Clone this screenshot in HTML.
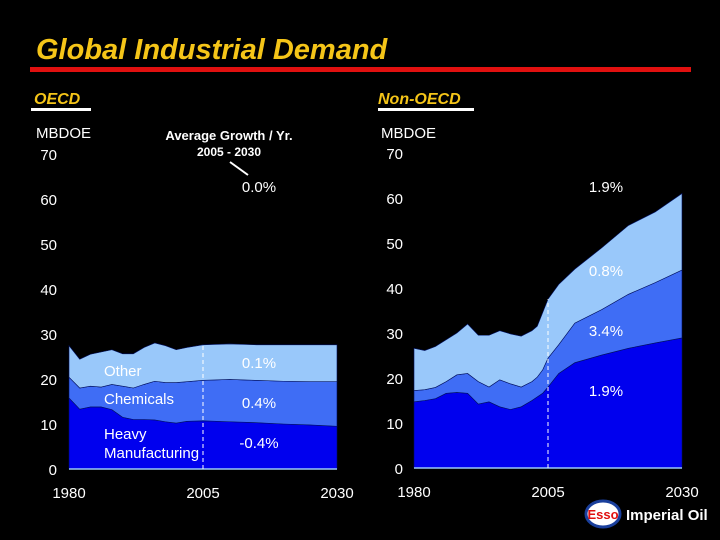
<!DOCTYPE html>
<html><head><meta charset="utf-8"><style>
html,body{margin:0;padding:0;background:#000;}
svg{display:block;font-family:"Liberation Sans",sans-serif;}
</style></head><body>
<svg id="c" width="720" height="540" viewBox="0 0 720 540">
<text x="36" y="59" font-size="29" font-weight="bold" font-style="italic" fill="#f5c518">Global Industrial Demand</text>
<rect x="30" y="67" width="661" height="5" fill="#e0100f"/>
<text x="34" y="104" font-size="16" font-weight="bold" font-style="italic" fill="#f5c518">OECD</text>
<rect x="31" y="108" width="60" height="3" fill="#fff"/>
<text x="378" y="104" font-size="16" font-weight="bold" font-style="italic" fill="#f5c518">Non-OECD</text>
<rect x="378" y="108" width="96" height="3" fill="#fff"/>
<text x="36" y="138" font-size="15" fill="#fff">MBDOE</text>
<text x="381" y="138" font-size="15" fill="#fff">MBDOE</text>
<text x="229" y="140" font-size="13" font-weight="bold" fill="#fff" text-anchor="middle">Average Growth / Yr.</text>
<text x="229" y="156" font-size="12" font-weight="bold" fill="#fff" text-anchor="middle">2005 - 2030</text>
<line x1="230" y1="162" x2="248" y2="175" stroke="#fff" stroke-width="2"/>
<g id="left"></g>
<g id="right"></g>
<text x="259" y="192" font-size="15" fill="#fff" text-anchor="middle">0.0%</text>
<text x="104" y="376" font-size="15" fill="#fff">Other</text>
<text x="104" y="404" font-size="15" fill="#fff">Chemicals</text>
<text x="104" y="439" font-size="15" fill="#fff">Heavy</text>
<text x="104" y="458" font-size="15" fill="#fff">Manufacturing</text>
<text x="259" y="368" font-size="15" fill="#fff" text-anchor="middle">0.1%</text>
<text x="259" y="408" font-size="15" fill="#fff" text-anchor="middle">0.4%</text>
<text x="259" y="448" font-size="15" fill="#fff" text-anchor="middle">-0.4%</text>
<text x="606" y="192" font-size="15" fill="#fff" text-anchor="middle">1.9%</text>
<text x="606" y="276" font-size="15" fill="#fff" text-anchor="middle">0.8%</text>
<text x="606" y="336" font-size="15" fill="#fff" text-anchor="middle">3.4%</text>
<text x="606" y="396" font-size="15" fill="#fff" text-anchor="middle">1.9%</text>
<g>
<ellipse cx="603" cy="514" rx="17" ry="13" fill="#fff" stroke="#1a3f9c" stroke-width="3"/>
<text x="603" y="519" font-size="13" font-weight="bold" fill="#e0100f" text-anchor="middle">Esso</text>
<text x="626" y="520" font-size="15" font-weight="bold" fill="#fff">Imperial Oil</text>
</g>
</svg>
<script>
const yTicks=[0,10,20,30,40,50,60,70];
const xTicks=[1980,2005,2030];
const oecdYears=[1980,1982,1984,1986,1988,1990,1992,1994,1996,1998,2000,2002,2005,2010,2015,2020,2025,2030];
const oecdHeavy=[15.8,13.3,13.8,13.8,13.2,11.5,11,11,10.9,10.5,10.2,10.6,10.7,10.5,10.3,10,9.8,9.5];
const oecdChem=[4.6,4.7,4.6,4.4,5.6,6.9,7,7.8,8.6,8.7,9,8.8,9,9.4,9.4,9.5,9.6,9.9];
const oecdOther=[7,6.4,7.1,7.8,7.7,7.2,7.6,8.2,8.5,8.2,7.3,7.6,7.9,7.9,7.9,8.1,8.2,8.2];
const nonYears=[1980,1982,1984,1986,1988,1990,1992,1994,1996,1998,2000,2002,2003,2004,2005,2007,2010,2015,2020,2025,2030];
const nonHeavy=[14.7,15,15.4,16.6,16.8,16.6,14.2,14.7,13.6,13,13.6,15,15.8,16.6,18,21,23.4,25.1,26.6,27.8,28.9];
const nonChem=[2.5,2.4,2.5,2.6,3.9,4.4,5,3.3,6,5.7,4.4,4.2,4.4,5.2,6.4,6.4,8.8,10.1,12,13.4,15.1];
const nonOther=[9.4,8.7,9.1,9.3,9.3,11,10.3,11.5,10.9,11.1,11.3,11.3,11.3,12.7,13.1,13.4,12,13.7,15.3,15.7,17];
const NS='http://www.w3.org/2000/svg';
function mk(t,a,p){const e=document.createElementNS(NS,t);for(const k in a)e.setAttribute(k,a[k]);p.appendChild(e);return e;}
function draw(g,years,series,x0,x1,y0,tickX,prefix){
  const sx=y=>x0+(y-1980)/50*(x1-x0);
  const sy=v=>y0-v*4.5;
  const cols=['#0000ee','#3f6df5','#99c8fa'];
  const names=['heavy','chemicals','other'];
  let base=years.map(()=>0);
  series.forEach((s,i)=>{
    const top=base.map((b,j)=>b+s[j]);
    let d='M'+years.map((y,j)=>sx(y)+','+sy(top[j])).join(' L');
    for(let j=years.length-1;j>=0;j--)d+=' L'+sx(years[j])+','+sy(base[j]);
    const p=mk('path',{d:d+'Z',fill:cols[i],stroke:'#001060','stroke-width':0.6},g);
    
    
    base=top;
  });
  const i05=years.indexOf(2005);
  const ax=mk('line',{x1:sx(1980),x2:sx(2030),y1:y0,y2:y0,stroke:'#99c8fa','stroke-width':1.5},g);
  
  
  const dl=mk('line',{x1:sx(2005),x2:sx(2005),y1:y0,y2:sy(base[i05]),stroke:'#fff','stroke-width':1,'stroke-dasharray':'4,3'},g);
  
  
  yTicks.forEach(v=>{
    const t=mk('text',{x:tickX,y:sy(v)+6,'font-size':15,fill:'#fff','text-anchor':'end'},g);
    t.textContent=v;
    
    
  });
  xTicks.forEach(v=>{
    const t=mk('text',{x:sx(v),y:y0+29,'font-size':15,fill:'#fff','text-anchor':'middle'},g);
    t.textContent=v;
    
    
  });
}
draw(document.getElementById('left'),oecdYears,[oecdHeavy,oecdChem,oecdOther],69,337,469,57,'oecd');
draw(document.getElementById('right'),nonYears,[nonHeavy,nonChem,nonOther],414,682,468,403,'non-oecd');
</script>
</body></html>
